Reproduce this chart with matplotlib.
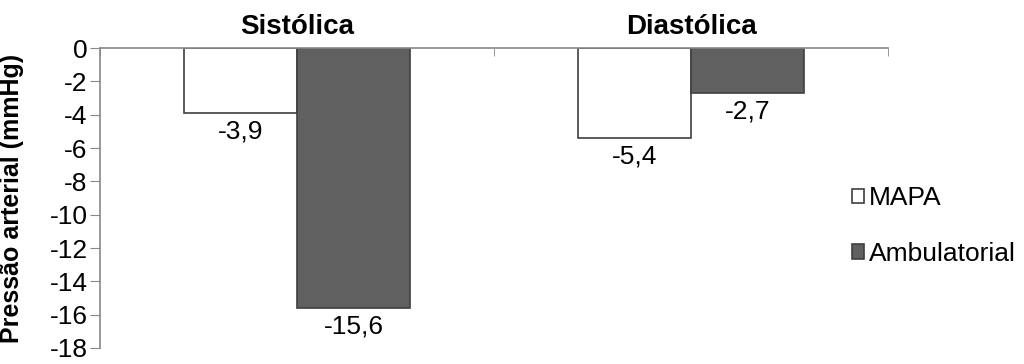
import numpy as np
import matplotlib.pyplot as plt

categories = ['Sistólica', 'Diastólica']
mapa = [-3.9, -5.4]
ambulatorial = [-15.6, -2.7]
series_names = ['MAPA', 'Ambulatorial']
yticks = list(range(0, -19, -2))

plt.rcParams['font.family'] = ['Liberation Sans', 'DejaVu Sans']

fig = plt.figure(figsize=(10.24, 3.64), dpi=100)
ax = fig.add_axes([0.0977, 0.044, 0.7695, 0.824])

x = np.arange(len(categories))
w = 0.287
b1 = ax.bar(x - w / 2, mapa, w, color='white', edgecolor='#404040', lw=1.2, label=series_names[0])
b2 = ax.bar(x + w / 2, ambulatorial, w, color='#606060', edgecolor='#404040', lw=1.2, label=series_names[1])

for bars, vals in [(b1, mapa), (b2, ambulatorial)]:
    for rect, v in zip(bars, vals):
        ax.annotate(f'{v:.1f}'.replace('.', ','), (rect.get_x() + rect.get_width() / 2, v),
                    xytext=(0, -5), textcoords='offset points', ha='center', va='top', fontsize=19)

ax.set_xlim(-0.5, 1.5)
ax.set_ylim(-18, 0)
ax.set_yticks(yticks)
ax.set_yticklabels([str(t) for t in yticks], fontsize=19)
ax.tick_params(axis='y', length=7, color='#888888', pad=2)

ax.xaxis.tick_top()
ax.set_xticks(x)
ax.set_xticklabels(categories, fontsize=20, fontweight='bold')
ax.tick_params(axis='x', which='major', length=0, pad=6)
ax.set_xticks([-0.5, 0.5, 1.5], minor=True)
ax.tick_params(axis='x', which='minor', direction='in', length=6, color='#888888')

for s in ['right', 'bottom']:
    ax.spines[s].set_visible(False)
for s in ['left', 'top']:
    ax.spines[s].set_color('#888888')
    ax.spines[s].set_linewidth(1.2)

ax.set_ylabel('Pressão arterial (mmHg)', fontsize=18, fontweight='bold')
ax.yaxis.set_label_coords(-0.097, 0.5)

fig.legend(loc='center left', bbox_to_anchor=(852 / 1024, 1 - 226 / 364), frameon=False, fontsize=19,
           borderpad=0, borderaxespad=0, handlelength=0.45, handleheight=0.45,
           handletextpad=0.2, labelspacing=1.2)

fig.savefig('out.png', dpi=100)
